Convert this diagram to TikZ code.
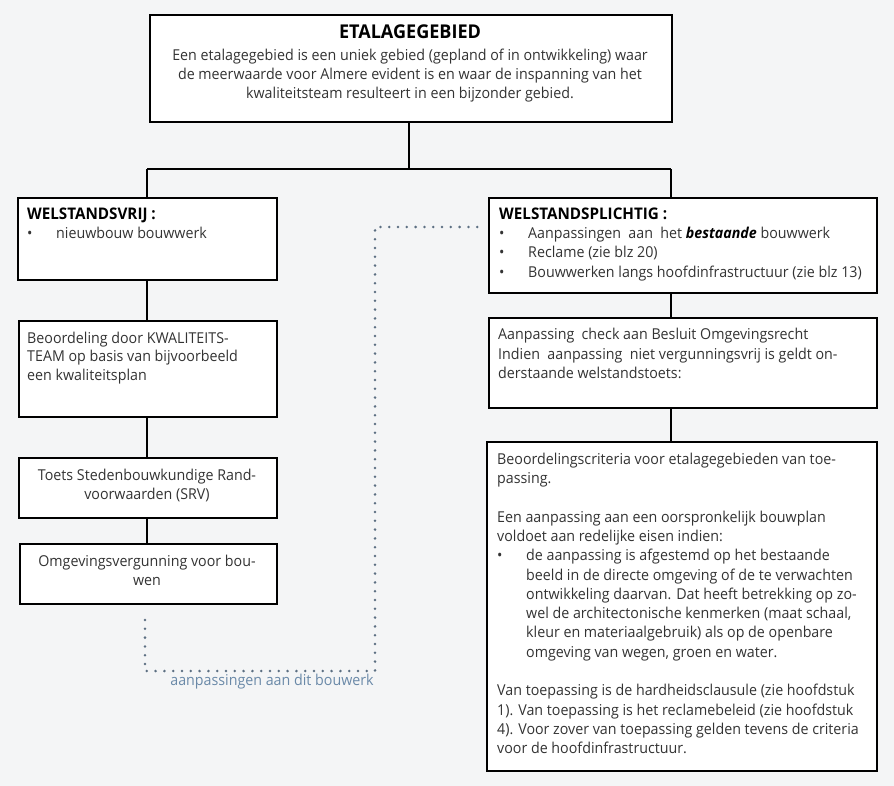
\documentclass[tikz,border=0pt]{standalone}
\usepackage{fontspec}
\setmainfont{Open Sans}[FakeStretch=0.95]
\definecolor{bgc}{HTML}{F4F5F6}
\definecolor{txc}{HTML}{333333}
\definecolor{dotc}{HTML}{5C6F82}
\definecolor{lblc}{HTML}{6A89A8}
\newcommand{\fs}{\rule{0pt}{15pt}}
\newcommand{\bul}{\makebox[29pt][l]{•}}
\newcommand{\ind}{\hspace*{29pt}}
\newcommand{\hd}[1]{{\color{black}\fontsize{16}{19.3}\bfseries\selectfont #1}}
\tikzset{
  box/.style={draw=black, line width=1.8pt, fill=white, rectangle, anchor=north west, inner sep=0pt},
  txt/.style={anchor=north west, inner sep=0pt, align=left, text=txc, font=\fontsize{15}{19.3}\selectfont},
  ctxt/.style={anchor=north, inner sep=0pt, align=center, text=txc, font=\fontsize{15}{19}\selectfont},
  conn/.style={draw=black, line width=1.5pt},
  dotline/.style={draw=dotc, line width=2.8pt, line cap=round, dash pattern=on 0pt off 8.8pt},
}
\begin{document}
\begin{tikzpicture}[x=1pt,y=-1pt]
\useasboundingbox (0,0) rectangle (894,786);
\fill[bgc] (0,0) rectangle (894,786);

% boxes
\node[box, minimum width=522, minimum height=107] (top) at (149,14) {};
\node[box, minimum width=259, minimum height=82] (vrij) at (17,197) {};
\node[box, minimum width=258, minimum height=96] (beoord) at (18,320) {};
\node[box, minimum width=258, minimum height=60] (toets) at (18,457) {};
\node[box, minimum width=257, minimum height=60] (omg) at (19,543) {};
\node[box, minimum width=388, minimum height=95] (plicht) at (488,197) {};
\node[box, minimum width=388, minimum height=90] (check) at (488,317) {};
\node[box, minimum width=390, minimum height=329] (crit) at (486,441) {};

% connectors
\coordinate (jl) at (147,169);
\coordinate (jr) at (671,169);
\coordinate (jm) at (409,169);
\draw[conn] (jm |- top.south) -- (jm);
\draw[conn] (jl) -- (jr);
\draw[conn] (jl) -- (jl |- vrij.north);
\draw[conn] (jr) -- (jr |- plicht.north);
\draw[conn] (jl |- vrij.south) -- (jl |- beoord.north);
\draw[conn] (jl |- beoord.south) -- (jl |- toets.north);
\draw[conn] (jl |- toets.south) -- (jl |- omg.north);
\draw[conn] (jr |- plicht.south) -- (jr |- check.north);
\draw[conn] (jr |- check.south) -- (jr |- crit.north);

% dotted connector
\coordinate (d0) at (145,620);
\coordinate (d1) at (145,671);
\coordinate (d2) at (375,671);
\coordinate (d3) at (375,227);
\coordinate (d4) at (482,227);
\draw[dotline] (d0) -- (d1) -- (d2) -- (d3) -- (d4);
\node[anchor=base, inner sep=0pt, text=lblc, font=\fontsize{15}{18}\selectfont] (lbl) at (272,685) {aanpassingen aan dit bouwerk};

% texts
\node[anchor=base, inner sep=0pt, font=\fontsize{19}{22}\bfseries\selectfont] (title) at (410,38.5) {ETALAGEGEBIED};
\node[ctxt] (toptxt) at (410,45) {\fs Een etalagegebied is een uniek gebied (gepland of in ontwikkeling) waar\\de meerwaarde voor Almere evident is en waar de inspanning van het\\kwaliteitsteam resulteert in een bijzonder gebied.};

\node[txt] (vrijtxt) at (27,204) {\fs\hd{WELSTANDSVRIJ :}\\\bul nieuwbouw bouwwerk};

\node[txt, font=\fontsize{15}{18.7}\selectfont] (beoordtxt) at (27,328) {\fs Beoordeling door KWALITEITS-\\TEAM op basis van bijvoorbeeld\\een kwaliteitsplan};

\node[ctxt] (toetstxt) at (147,465) {\fs Toets Stedenbouwkundige Rand-\\voorwaarden (SRV)};

\node[ctxt] (omgtxt) at (147,551.5) {\fs Omgevingsvergunning voor bou-\\wen};

\node[txt] (plichttxt) at (499,204) {\fs\hd{WELSTANDSPLICHTIG :}\\\bul Aanpassingen\ \ aan\ \ het {\color{black}\bfseries\itshape bestaande} bouwwerk\\\bul Reclame (zie blz 20)\\\bul Bouwwerken langs hoofdinfrastructuur (zie blz 13)};

\node[txt] (checktxt) at (498,324.5) {\fs Aanpassing\ \ check aan Besluit Omgevingsrecht\\Indien\ \ aanpassing\ \ niet vergunningsvrij is geldt on-\\derstaande welstandstoets:};

\node[txt] (crittxt) at (497,449) {\fs Beoordelingscriteria voor etalagegebieden van toe-\\passing.\\[19.3pt]Een aanpassing aan een oorspronkelijk bouwplan\\voldoet aan redelijke eisen indien:\\\bul de aanpassing is afgestemd op het bestaande\\\ind beeld in de directe omgeving of de te verwachten\\\ind ontwikkeling daarvan. Dat heeft betrekking op zo-\\\ind wel de architectonische kenmerken (maat schaal,\\\ind kleur en materiaalgebruik) als op de openbare\\\ind omgeving van wegen, groen en water.\\[19.3pt]Van toepassing is de hardheidsclausule (zie hoofdstuk\\1). Van toepassing is het reclamebeleid (zie hoofdstuk\\4). Voor zover van toepassing gelden tevens de criteria\\voor de hoofdinfrastructuur.};
\end{tikzpicture}
\end{document}
